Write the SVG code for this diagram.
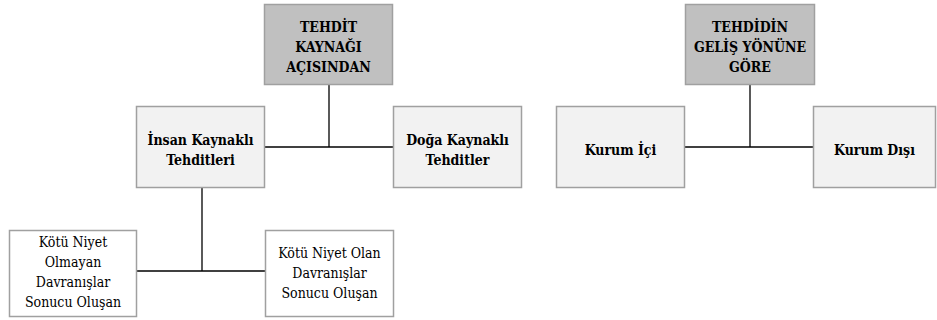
<svg xmlns="http://www.w3.org/2000/svg" width="937" height="320" viewBox="0 0 937 320">
<style>
.box{stroke:#a0a0a0;stroke-width:1.5}
.dark{fill:#c0c0c0}
.light{fill:#f2f2f2}
.white{fill:#ffffff}
.t{font-family:'DejaVu Serif Condensed','DejaVu Serif',serif;font-stretch:condensed;font-size:14px;fill:#000;text-anchor:middle}
.b{font-weight:bold}
.conn line{stroke:#000;stroke-width:1.3}
</style>
<rect width="937" height="320" fill="#fff"/>
<g class="conn">
<line x1="329" y1="84" x2="329" y2="147"/>
<line x1="264" y1="147" x2="393" y2="147"/>
<line x1="202" y1="188" x2="202" y2="271"/>
<line x1="136" y1="271" x2="266" y2="271"/>
<line x1="750" y1="84" x2="750" y2="147"/>
<line x1="684" y1="147" x2="813" y2="147"/>
</g>
<g id="tehdit-kaynagi" class="t">
<rect class="box dark" x="264.5" y="4.5" width="128" height="80"/>
<text class="b" x="328.5" y="32">TEHDİT</text>
<text class="b" x="328.5" y="52">KAYNAĞI</text>
<text class="b" x="328.5" y="72">AÇISINDAN</text>
</g>
<g id="insan" class="t">
<rect class="box light" x="136.5" y="106.5" width="128" height="81"/>
<text class="b" x="200.5" y="145">İnsan Kaynaklı</text>
<text class="b" x="200.5" y="165">Tehditleri</text>
</g>
<g id="doga" class="t">
<rect class="box light" x="393.5" y="106.5" width="128" height="81"/>
<text class="b" x="457.5" y="145">Doğa Kaynaklı</text>
<text class="b" x="457.5" y="165">Tehditler</text>
</g>
<g id="kotu-olmayan" class="t">
<rect class="box white" x="9.5" y="230.5" width="127" height="86"/>
<text x="73" y="247">Kötü Niyet</text>
<text x="73" y="267">Olmayan</text>
<text x="73" y="287">Davranışlar</text>
<text x="73" y="307">Sonucu Oluşan</text>
</g>
<g id="kotu-olan" class="t">
<rect class="box white" x="265.5" y="230.5" width="128" height="86"/>
<text x="329.5" y="258">Kötü Niyet Olan</text>
<text x="329.5" y="278">Davranışlar</text>
<text x="329.5" y="298">Sonucu Oluşan</text>
</g>
<g id="tehdidin-gelis" class="t">
<rect class="box dark" x="685.5" y="4.5" width="129" height="80"/>
<text class="b" x="750" y="32">TEHDİDİN</text>
<text class="b" x="750" y="52">GELİŞ YÖNÜNE</text>
<text class="b" x="750" y="72">GÖRE</text>
</g>
<g id="kurum-ici" class="t">
<rect class="box light" x="556.5" y="106.5" width="128" height="81"/>
<text class="b" x="620.5" y="155">Kurum İçi</text>
</g>
<g id="kurum-disi" class="t">
<rect class="box light" x="813.5" y="106.5" width="122" height="81"/>
<text class="b" x="874.5" y="155">Kurum Dışı</text>
</g>
</svg>
